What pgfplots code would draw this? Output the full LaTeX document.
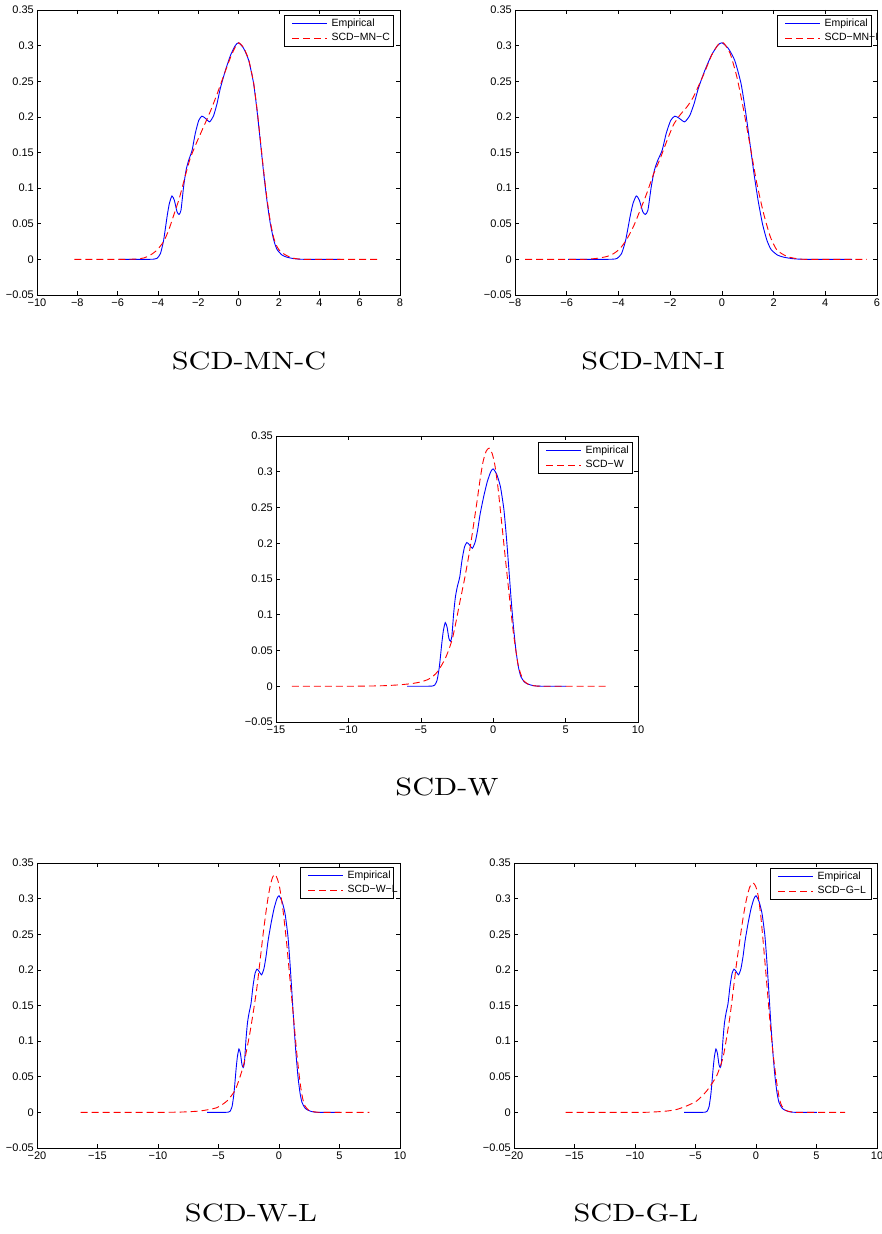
\documentclass[border=0pt]{standalone}
\usepackage{pgfplots}
\pgfplotsset{compat=1.18}
\usepackage{pgfplotstable}
\usepackage{fontspec}
\usepackage{graphicx}
\newfontfamily\helv{Liberation Sans}
\newcommand\pcap[1]{\scalebox{3.03}[2.5]{\fontsize{10}{12}\selectfont #1}}

\pgfplotstableread{
x y
-5.95 0
-4.6 0
-4.2 0.0003
-4.05 0.0014
-3.88 0.008
-3.72 0.027
-3.55 0.060
-3.44 0.078
-3.31 0.089
-3.19 0.083
-3.06 0.067
-2.96 0.063
-2.86 0.069
-2.73 0.102
-2.61 0.125
-2.48 0.139
-2.31 0.153
-2.15 0.177
-1.98 0.195
-1.82 0.201
-1.65 0.198
-1.44 0.193
-1.24 0.202
-1.07 0.219
-0.91 0.240
-0.66 0.265
-0.41 0.286
-0.17 0.300
0 0.304
0.25 0.296
0.50 0.279
0.74 0.247
0.91 0.209
1.07 0.167
1.24 0.121
1.40 0.083
1.57 0.050
1.74 0.027
1.90 0.014
2.15 0.006
2.40 0.003
2.73 0.001
3.06 0.0002
3.5 0
5.04 0
}\emp

\pgfplotstableread{
x y
-8.15 0
-5.6 0
-5.0 0.0007
-4.7 0.002
-4.38 0.006
-4.05 0.013
-3.72 0.025
-3.47 0.041
-3.22 0.062
-2.95 0.085
-2.64 0.118
-2.40 0.142
-2.07 0.165
-1.74 0.186
-1.40 0.208
-1.07 0.232
-0.74 0.258
-0.41 0.283
-0.17 0.298
0 0.304
0.25 0.297
0.50 0.280
0.74 0.248
0.91 0.211
1.07 0.169
1.24 0.124
1.40 0.086
1.57 0.053
1.74 0.030
1.90 0.018
2.07 0.011
2.40 0.005
2.73 0.0015
3.06 0.0003
3.5 0
6.94 0
}\mnc

\pgfplotstableread{
x y
-7.61 0
-5.4 0
-4.84 0.0014
-4.45 0.004
-4.19 0.008
-3.94 0.015
-3.68 0.028
-3.42 0.046
-3.16 0.069
-2.90 0.093
-2.65 0.119
-2.39 0.141
-2.13 0.166
-1.87 0.189
-1.61 0.203
-1.35 0.214
-1.10 0.228
-0.71 0.259
-0.39 0.287
-0.13 0.302
0.06 0.304
0.32 0.289
0.58 0.256
0.84 0.210
1.10 0.158
1.35 0.107
1.61 0.065
1.87 0.032
2.13 0.013
2.52 0.004
2.90 0.001
3.3 0
5.61 0
}\mni

\pgfplotstableread{
x y
-13.9 0
-10 0
-8.5 0.0003
-7.5 0.0008
-6.6 0.0018
-5.7 0.0035
-5.0 0.006
-4.5 0.0095
-4.1 0.015
-3.78 0.022
-3.33 0.038
-3.05 0.052
-2.8 0.068
-2.55 0.092
-2.29 0.119
-1.95 0.153
-1.6 0.193
-1.15 0.254
-0.9 0.290
-0.69 0.315
-0.48 0.329
-0.28 0.333
-0.08 0.326
0.11 0.310
0.34 0.276
0.69 0.208
1.03 0.142
1.38 0.077
1.72 0.030
2.06 0.009
2.5 0.002
3.0 0.0003
3.6 0
7.9 0
}\scdw

\pgfplotstableread{
x y
-16.4 0
-10 0
-8 0.0005
-6.5 0.002
-5.15 0.0065
-4.3 0.016
-3.6 0.032
-2.95 0.065
-2.4 0.112
-1.85 0.172
-1.3 0.252
-0.98 0.293
-0.74 0.317
-0.53 0.330
-0.33 0.334
-0.12 0.327
0.08 0.313
0.35 0.281
0.63 0.238
0.9 0.188
1.19 0.135
1.47 0.083
1.74 0.042
1.95 0.020
2.15 0.009
2.45 0.003
2.84 0.001
3.5 0
7.47 0
}\scdwl

\pgfplotstableread{
x y
-15.73 0
-9.5 0
-8 0.001
-7.3 0.002
-6.57 0.004
-5.74 0.009
-4.9 0.016
-4.08 0.030
-3.26 0.051
-2.7 0.079
-2.15 0.135
-1.6 0.210
-1.05 0.275
-0.75 0.302
-0.5 0.317
-0.22 0.322
0.0 0.316
0.19 0.303
0.4 0.275
0.6 0.238
0.88 0.183
1.16 0.126
1.44 0.078
1.71 0.042
1.92 0.020
2.13 0.009
2.45 0.003
2.8 0.001
3.5 0
7.37 0
}\scdgl

\pgfplotsset{
  mat/.style={
    scale only axis, width=363pt, height=285pt,
    anchor=south west,
    ymin=-0.05, ymax=0.35,
    ytick={-0.05,0,0.05,0.1,0.15,0.2,0.25,0.3,0.35},
    yticklabels={−0.05,0,0.05,0.1,0.15,0.2,0.25,0.3,0.35},
    tick align=inside, major tick length=4pt,
    xtick pos=both, ytick pos=both,
    tick style={black, line width=0.6pt},
    axis line style={black, line width=0.8pt},
    ticklabel style={font=\helv\fontsize{11}{12}\selectfont},
    xticklabel style={inner xsep=0pt, inner ysep=0pt, yshift=-4pt},
    yticklabel style={inner xsep=3pt, inner ysep=0pt, text height=7.6pt, text depth=0pt},
    legend cell align=left,
    legend style={at={(1,1)}, anchor=north east, draw=black, line width=1pt,
      font=\helv\fontsize{10.5}{12}\selectfont,
      inner xsep=1pt, inner ysep=1pt, column sep=4pt,
      nodes={inner xsep=0pt, inner ysep=2.5pt, text height=7.5pt, text depth=2pt}},
  },
  emp/.style={color=blue, line width=0.9pt, smooth, tension=0.35,
    legend image code/.code={\path (-6pt,0pt); \draw[blue, line width=0.9pt, solid] (0pt,0pt) -- (35pt,0pt);}},
  fit/.style={color=red, line width=0.9pt, dash pattern=on 7pt off 4pt, smooth, tension=0.35,
    legend image code/.code={\path (-6pt,0pt); \draw[red, line width=0.9pt, dash pattern=on 7pt off 4pt] (0pt,0pt) -- (35pt,0pt);}},
}

\begin{document}
\begin{tikzpicture}
\path[use as bounding box] (0pt,0pt) rectangle (882pt,1234pt);

% Panel 1
\begin{axis}[mat, at={(37pt,939pt)}, xmin=-10, xmax=8,
  xtick={-10,-8,-6,-4,-2,0,2,4,6,8},
  xticklabels={−10,−8,−6,−4,−2,0,2,4,6,8},
  legend style={xshift=-6pt, yshift=-5pt}]
\addplot[emp] table {\emp};
\addlegendentry{\makebox[61pt][l]{Empirical}}
\addplot[fit] table {\mnc};
\addlegendentry{SCD−MN−C}
\end{axis}

% Panel 2
\begin{axis}[mat, at={(515pt,939pt)}, width=362pt, xmin=-8, xmax=6,
  xtick={-8,-6,-4,-2,0,2,4,6},
  xticklabels={−8,−6,−4,−2,0,2,4,6},
  legend style={xshift=-5pt, yshift=-5pt}]
\addplot[emp] table {\emp};
\addlegendentry{\makebox[46pt][l]{Empirical}}
\addplot[fit] table {\mni};
\addlegendentry{\makebox[46pt][l]{SCD−MN−I}}
\end{axis}

% Panel 3
\begin{axis}[mat, at={(276pt,512pt)}, width=362pt, height=286pt, xmin=-15, xmax=10,
  xtick={-15,-10,-5,0,5,10},
  xticklabels={−15,−10,−5,0,5,10},
  legend style={xshift=-5pt, yshift=-6pt}]
\addplot[emp] table {\emp};
\addlegendentry{\makebox[46pt][l]{Empirical}}
\addplot[fit] table {\scdw};
\addlegendentry{SCD−W}
\end{axis}

% Panel 4
\begin{axis}[mat, at={(37pt,86pt)}, xmin=-20, xmax=10,
  xtick={-20,-15,-10,-5,0,5,10},
  xticklabels={−20,−15,−10,−5,0,5,10},
  legend style={xshift=-6pt, yshift=-4pt}]
\addplot[emp] table {\emp};
\addlegendentry{\makebox[45pt][l]{Empirical}}
\addplot[fit] table {\scdwl};
\addlegendentry{\makebox[45pt][l]{SCD−W−L}}
\end{axis}

% Panel 5
\begin{axis}[mat, at={(514pt,86pt)}, xmin=-20, xmax=10,
  xtick={-20,-15,-10,-5,0,5,10},
  xticklabels={−20,−15,−10,−5,0,5,10},
  legend style={xshift=-5pt, yshift=-5pt}]
\addplot[emp] table {\emp};
\addlegendentry{\makebox[53pt][l]{Empirical}}
\addplot[fit] table {\scdgl};
\addlegendentry{SCD−G−L}
\end{axis}

% Captions
\node at (249pt,873pt) {\pcap{SCD-MN-C}};
\node at (653pt,873pt) {\pcap{SCD-MN-I}};
\node at (447pt,447pt) {\pcap{SCD-W}};
\node at (251pt,21pt) {\pcap{SCD-W-L}};
\node at (636pt,21pt) {\pcap{SCD-G-L}};
\end{tikzpicture}
\end{document}
